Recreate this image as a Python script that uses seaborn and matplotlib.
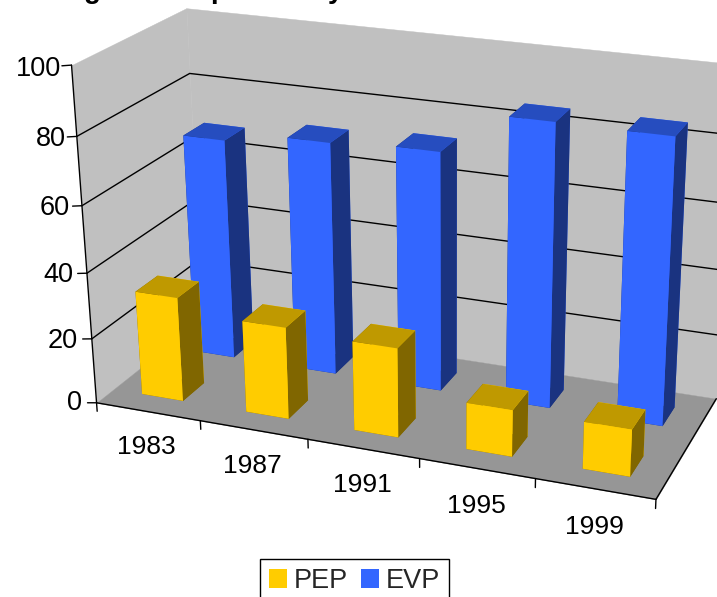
import numpy as np
import pandas as pd
import seaborn as sns
import matplotlib
matplotlib.use("Agg")
import matplotlib.pyplot as plt
from matplotlib.patches import Patch
from mpl_toolkits.mplot3d import Axes3D
from mpl_toolkits.mplot3d.art3d import Poly3DCollection

years = ["1983", "1987", "1991", "1995", "1999"]
pep = [32, 28, 27, 14, 14]
evp = [68.5, 71.7, 73, 85.5, 85.3]
yticks = [0, 20, 40, 60, 80, 100]

sns.set_theme(style="white")
plt.rcParams["font.family"] = ["Liberation Sans", "DejaVu Sans"]

df = pd.DataFrame({"year": years, "PEP": pep, "EVP": evp})

# camera calibration: (category, depth, value) -> picture position of the plot box
calib = [
    ((0, 0, 0), (95, 402)), ((0, 0, 100), (73, 67)), ((0, 0, 20), (90, 337)),
    ((0, 0, 60), (83, 206)), ((0, 2, 100), (185, 7)), ((0, 2, 80), (189, 73)),
    ((0, 2, 0), (205, 321)), ((5, 0, 0), (657, 500)), ((5, 2, 0), (715, 398)),
    ((5, 2, 100), (735, 64)), ((5, 2, 80), (731, 135)),
]
A = []
b = []
for (X, Y, Z), (u, v) in calib:
    A.append([X, Y, Z, 1, 0, 0, 0, 0, -u * X, -u * Y, -u * Z])
    A.append([0, 0, 0, 0, X, Y, Z, 1, -v * X, -v * Y, -v * Z])
    b += [u, v]
p = np.linalg.lstsq(np.array(A, float), np.array(b, float), rcond=None)[0]
M = np.array([
    [p[0], p[1], p[2], p[3]],
    [p[4], p[5], p[6], p[7]],
    [-0.02, 0.1, -0.002, 0.5],
    [p[8], p[9], p[10], 1.0],
])

fig = plt.figure(figsize=(7.17, 5.97), dpi=100)
ax = fig.add_axes([0, 0, 1, 1], projection="3d")
ax.set_proj_type("ortho")  # no clipping of projected lines; the matrix below does the perspective
ax.get_proj = lambda: M
ax.apply_aspect = lambda position=None: None
ax.set_axis_off()
ax.computed_zorder = False
ax.patch.set_visible(False)
ax.set_xticks([])
ax.set_yticks([])
ax.set_zticks([])
ax.viewLim.intervalx = (0, 717)
ax.viewLim.intervaly = (597, 0)

NX, NY, ZMAX = 5, 2, 100
# walls and floor
walls = [
    ([(0, 0, 0), (0, NY, 0), (0, NY, ZMAX), (0, 0, ZMAX)], "#C0C0C0"),
    ([(0, NY, 0), (NX, NY, 0), (NX, NY, ZMAX), (0, NY, ZMAX)], "#C0C0C0"),
    ([(0, 0, 0), (NX, 0, 0), (NX, NY, 0), (0, NY, 0)], "#969696"),
]
for i, (v, c) in enumerate(walls):
    ax.add_collection3d(Poly3DCollection([v], facecolors=c, edgecolors=c, linewidths=0.3, zorder=1 + i))

# gridlines
for t in yticks[1:-1]:
    ax.plot([0, 0, NX], [0, NY, NY], [t, t, t], color="black", lw=1.0, zorder=4, solid_joinstyle="miter")

# axes
ax.plot([0, 0], [0, 0], [0, ZMAX], color="black", lw=1.0, zorder=5)
ax.plot([0, NX], [0, 0], [0, 0], color="black", lw=1.0, zorder=5)
ax.plot([NX, NX], [0, NY], [0, 0], color="black", lw=1.0, zorder=5)
for t in yticks:
    ax.plot([-0.09, 0], [0, 0], [t - 0.5, t], color="black", lw=1.0, zorder=5)
    ax.text(-0.15 + t * 0.0005, 0, t - 1.3 + 0.3 * (t == 0), str(t), ha="right", va="center", fontsize=19.5, color="black")
for i in range(NX + 1):
    ax.plot([i, i], [0, 0], [0, -2.7], color="black", lw=1.0, zorder=5)
for i, y in enumerate(years):
    ax.text(i + 0.46 + i * 0.012, 0, -11.4, y, ha="center", va="center", fontsize=19, color="black")

# bars
def bars(col, y0, front, top, side, z):
    for i, h in enumerate(df[col]):
        ax.bar3d(i * 1.006 + 0.28, y0, 0, 0.4, 0.4, h,
                 color=[side, top, front, front, side, side], shade=False,
                 edgecolor=None, zorder=z + i * 0.1, linewidth=0)

bars("EVP", 1.3, "#3366FF", "#264DBF", "#1A3380", 6)
bars("PEP", 0.3, "#FFCC00", "#BF9900", "#806600", 8)

# the title sits above the top edge of the canvas; only its descenders show
for xpos, s in [(92, "g"), (219, "p"), (336, "y")]:
    fig.text(xpos / 717, 1 + 2.5 / 597, s, fontsize=20, fontweight="bold", ha="center", va="baseline", color="black")

handles = [Patch(facecolor="#FFCC00", linewidth=0, label="PEP"), Patch(facecolor="#3366FF", linewidth=0, label="EVP")]
leg = fig.legend(handles=handles, loc="center", bbox_to_anchor=(354.5 / 717, 1 - 581 / 597), ncol=2,
                 fontsize=19.5, frameon=True, fancybox=False, edgecolor="black", framealpha=1,
                 handlelength=0.67, handleheight=0.67, handletextpad=0.26, columnspacing=0.48,
                 borderpad=0.33, borderaxespad=0)
leg.get_frame().set_linewidth(1.0)

fig.savefig("out.png", dpi=100)
